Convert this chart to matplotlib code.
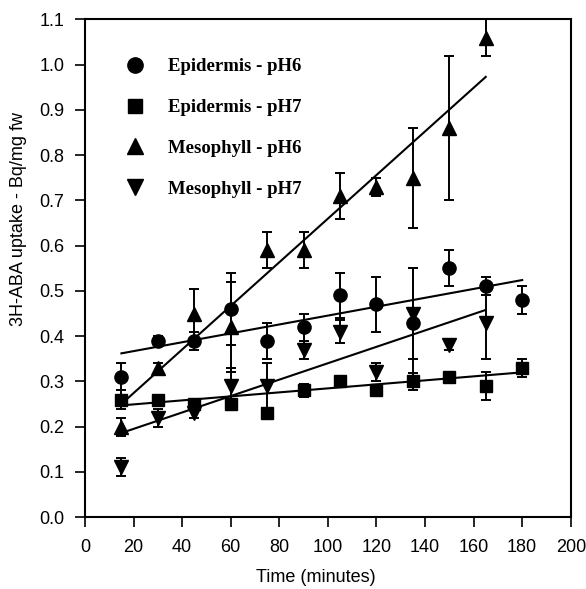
import matplotlib
matplotlib.use("Agg")
import matplotlib.pyplot as plt
from matplotlib.lines import Line2D

# ── Data ──────────────────────────────────────────────────────────────────────
time_min = [15, 30, 45, 60, 75, 90, 105, 120, 135, 150, 165, 180]

epi_ph6 = [0.31, 0.39, 0.39, 0.46, 0.39, 0.42, 0.49, 0.47, 0.43, 0.55, 0.51, 0.48]
epi_ph6_err = [0.03, 0.01, 0.02, 0.08, 0.04, 0.03, 0.05, 0.06, 0.12, 0.04, 0.02, 0.03]

epi_ph7 = [0.26, 0.26, 0.25, 0.25, 0.23, 0.28, 0.30, 0.28, 0.30, 0.31, 0.29, 0.33]
epi_ph7_err = [0.02, 0.01, 0.01, 0.01, 0.01, 0.015, 0.01, 0.01, 0.018, 0.01, 0.03, 0.02]

meso_time = [15, 30, 45, 60, 75, 90, 105, 120, 135, 150, 165]

meso_ph6 = [0.20, 0.33, 0.45, 0.42, 0.59, 0.59, 0.71, 0.73, 0.75, 0.86, 1.06]
meso_ph6_err = [0.02, 0.01, 0.055, 0.10, 0.04, 0.04, 0.05, 0.02, 0.11, 0.16, 0.04]

meso_ph7 = [0.11, 0.22, 0.23, 0.29, 0.29, 0.37, 0.41, 0.32, 0.45, 0.38, 0.43]
meso_ph7_err = [0.02, 0.02, 0.01, 0.04, 0.05, 0.02, 0.025, 0.02, 0.10, 0.01, 0.08]

# regression lines (end points)
fit_epi_x, fit_epi_ph6_y = [15, 180], [0.362, 0.524]
fit_epi_ph7_y = [0.247, 0.320]
fit_meso_x, fit_meso_ph6_y = [15, 165], [0.250, 0.973]
fit_meso_ph7_y = [0.186, 0.458]

x_ticks = list(range(0, 201, 20))
y_ticks = [i / 10 for i in range(0, 12)]

SANS = "Liberation Sans"
SERIF = "Liberation Serif"

fig = plt.figure(figsize=(5.86, 5.89), dpi=100, facecolor="white")
ax = fig.add_axes([0.145, 0.122, 0.829, 0.845])

eb_kw = dict(color="black", ecolor="black", elinewidth=1.4, capsize=3.5,
             capthick=1.4, linestyle="none", zorder=3)

ax.errorbar(time_min, epi_ph6, yerr=epi_ph6_err, marker="o", markersize=9.5, **eb_kw)
ax.errorbar(time_min, epi_ph7, yerr=epi_ph7_err, marker="s", markersize=9, **eb_kw)
ax.errorbar(meso_time, meso_ph6, yerr=meso_ph6_err, marker="^", markersize=9.5, **eb_kw)
ax.errorbar(meso_time, meso_ph7, yerr=meso_ph7_err, marker="v", markersize=9.5, **eb_kw)

for fx, fy in [(fit_epi_x, fit_epi_ph6_y), (fit_epi_x, fit_epi_ph7_y),
               (fit_meso_x, fit_meso_ph6_y), (fit_meso_x, fit_meso_ph7_y)]:
    ax.plot(fx, fy, color="black", linewidth=1.5, zorder=2)

# ── Axes ──────────────────────────────────────────────────────────────────────
ax.set_xlim(0, 200)
ax.set_ylim(0, 1.1)
ax.set_xticks(x_ticks)
ax.set_yticks(y_ticks)
ax.set_yticklabels([f"{v:.1f}" for v in y_ticks])
ax.tick_params(direction="out", length=7, width=1.2, labelsize=13)
ax.tick_params(axis="x", pad=9)
ax.tick_params(axis="y", pad=8)
for lab in ax.get_xticklabels() + ax.get_yticklabels():
    lab.set_fontfamily(SANS)
for spine in ax.spines.values():
    spine.set_linewidth(1.5)

ax.set_xlabel("Time (minutes)", fontsize=13, fontfamily=SANS, labelpad=12)
ax.xaxis.set_label_coords(0.475, -0.105)
ax.set_ylabel("3H-ABA uptake - Bq/mg fw", fontsize=13, fontfamily=SANS)
ax.yaxis.set_label_coords(-0.12, 0.6)

# ── Legend ────────────────────────────────────────────────────────────────────
handles = [
    Line2D([], [], color="black", marker="o", markersize=11, linestyle="none"),
    Line2D([], [], color="black", marker="s", markersize=10, linestyle="none"),
    Line2D([], [], color="black", marker="^", markersize=11, linestyle="none"),
    Line2D([], [], color="black", marker="v", markersize=11, linestyle="none"),
]
labels = ["Epidermis - pH6", "Epidermis - pH7", "Mesophyll - pH6", "Mesophyll - pH7"]
ax.legend(handles, labels, loc="upper left", bbox_to_anchor=(0.049, 0.956),
          frameon=False, handlelength=1.0, handletextpad=1.26, labelspacing=1.26,
          prop={"family": SERIF, "weight": "bold", "size": 13.5})

fig.savefig("out.png", dpi=100, facecolor="white")
